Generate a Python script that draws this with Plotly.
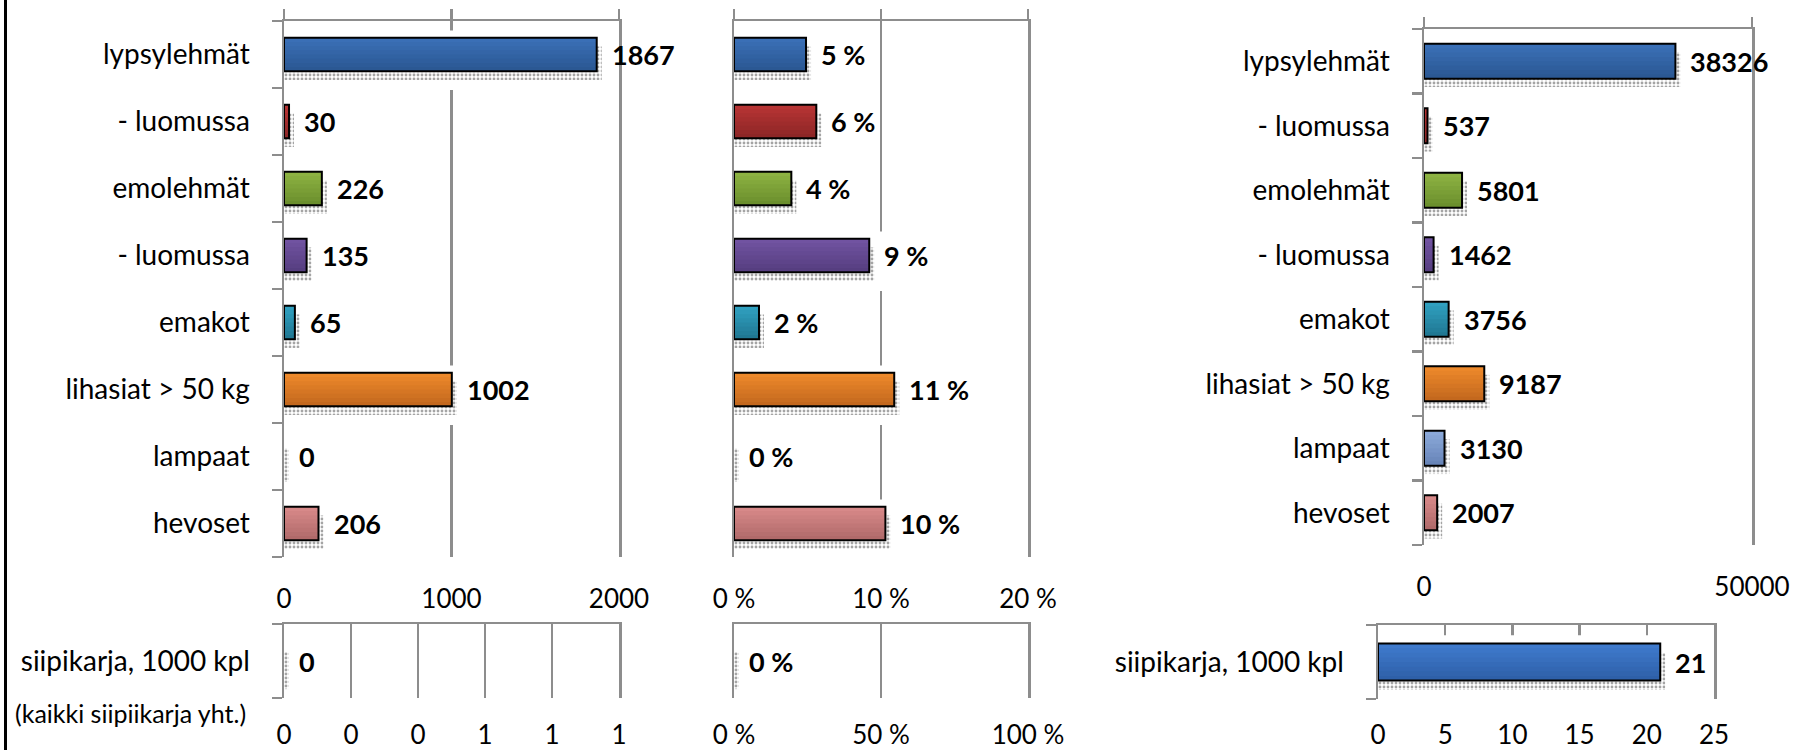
import plotly.graph_objects as go

W, H = 1794, 750

# ---------------------------------------------------------------- data
categories = ["lypsylehmät", "- luomussa", "emolehmät", "- luomussa",
              "emakot", "lihasiat > 50 kg", "lampaat", "hevoset"]
region_counts = [1867, 30, 226, 135, 65, 1002, 0, 206]
region_share_pct = [4.9, 5.6, 3.9, 9.2, 1.7, 10.9, 0.0, 10.3]
country_counts = [38326, 537, 5801, 1462, 3756, 9187, 3130, 2007]

poultry_category = ["siipikarja, 1000 kpl"]
poultry_region = [0]
poultry_share_pct = [0.0]
poultry_country = [21]

count_ticks = [0, 1000, 2000]
count_ticktext = ["0", "1000", "2000"]
share_ticks = [0, 10, 20]
share_ticktext = ["0 %", "10 %", "20 %"]
country_ticks = [0, 50000]
country_ticktext = ["0", "50000"]
poultry_region_ticks = [0, 0.2, 0.4, 0.6, 0.8, 1.0]
poultry_region_ticktext = ["0", "0", "0", "1", "1", "1"]
poultry_share_ticks = [0, 50, 100]
poultry_share_ticktext = ["0 %", "50 %", "100 %"]
poultry_country_ticks = [0, 5, 10, 15, 20, 25]
poultry_country_ticktext = ["0", "5", "10", "15", "20", "25"]

# gradient colours (top, bottom) for each animal group
bar_top = ["#3b71b9", "#ba3535", "#8fb543", "#7355a3", "#31a3c3",
           "#f08b2c", "#8eacdc", "#da8b8b"]
bar_bottom = ["#2a5690", "#8a2525", "#698c2c", "#543c7e", "#1f7590",
              "#c0661d", "#6582b6", "#ae6868"]
poultry_top = ["#407ccf"]
poultry_bottom = ["#2d5ea6"]

# ---------------------------------------------------------------- style
GRAY = "#8d8d8d"
FONT = "Lato"
TXT = "#000000"
LW = 2.5
CAT_SIZE = 28
TICK_SIZE = 26
VAL_SIZE = 27


def hex_rgb(h):
    h = h.lstrip("#")
    return tuple(int(h[i:i + 2], 16) for i in (0, 2, 4))


def blend(c1, c2, t):
    a, b = hex_rgb(c1), hex_rgb(c2)
    return "#%02x%02x%02x" % tuple(round(p + (q - p) * t) for p, q in zip(a, b))


def suffix(i):
    return "" if i == 1 else str(i)


fig = go.Figure()
shapes = []
annotations = []

# px boxes of the six plot areas: (left, right), (top, bottom)
panels = [
    dict(i=1, xpx=(284, 619), ypx=(21, 557), rng=[0, 2000],
         tv=count_ticks, tt=count_ticktext, vals=region_counts,
         labels=[f"{v:.0f}" for v in region_counts], cats=categories,
         tops=bar_top, bots=bar_bottom, show_cats=True, top_ticks=True,
         side_ticks=True, bw=0.5, standoff=24),
    dict(i=2, xpx=(284, 619), ypx=(624, 698), rng=[0, 1],
         tv=poultry_region_ticks, tt=poultry_region_ticktext,
         vals=poultry_region, labels=[f"{v:.0f}" for v in poultry_region],
         cats=poultry_category, tops=poultry_top, bots=poultry_bottom,
         show_cats=True, top_ticks=False, side_ticks=True, bw=0.5, standoff=19),
    dict(i=3, xpx=(734, 1028), ypx=(21, 557), rng=[0, 20],
         tv=share_ticks, tt=share_ticktext, vals=region_share_pct,
         labels=[f"{v:.0f} %" for v in region_share_pct], cats=categories,
         tops=bar_top, bots=bar_bottom, show_cats=False, top_ticks=True,
         side_ticks=False, bw=0.5, standoff=24),
    dict(i=4, xpx=(734, 1028), ypx=(624, 698), rng=[0, 100],
         tv=poultry_share_ticks, tt=poultry_share_ticktext,
         vals=poultry_share_pct,
         labels=[f"{v:.0f} %" for v in poultry_share_pct],
         cats=poultry_category, tops=poultry_top, bots=poultry_bottom,
         show_cats=False, top_ticks=False, side_ticks=False, bw=0.5, standoff=19),
    dict(i=5, xpx=(1424, 1752), ypx=(29, 545), rng=[0, 50000],
         tv=country_ticks, tt=country_ticktext, vals=country_counts,
         labels=[f"{v:.0f}" for v in country_counts], cats=categories,
         tops=bar_top, bots=bar_bottom, show_cats=True, top_ticks=True,
         side_ticks=True, bw=0.54, standoff=24),
    dict(i=6, xpx=(1378, 1714), ypx=(625, 699), rng=[0, 25],
         tv=poultry_country_ticks, tt=poultry_country_ticktext,
         vals=poultry_country, labels=[f"{v:.0f}" for v in poultry_country],
         cats=poultry_category, tops=poultry_top, bots=poultry_bottom,
         show_cats=True, top_ticks=False, side_ticks=True, bw=0.5, standoff=18),
]

N_STRIPES = 8
layout_axes = {}

for p in panels:
    i = p["i"]
    xr, yr = "x" + suffix(i), "y" + suffix(i)
    xl = "x" + str(i + 6)
    vals = p["vals"]
    n = len(vals)
    pos = list(range(n))
    bw = p["bw"]
    unit_per_px = (p["rng"][1] - p["rng"][0]) / (p["xpx"][1] - p["xpx"][0])

    # dotted drop shadow, offset down and to the right
    fig.add_trace(go.Bar(
        x=[v + 5 * unit_per_px for v in vals], y=pos, orientation="h",
        base=0, offset=-bw / 2 + 0.13, width=bw, xaxis=xr, yaxis=yr,
        marker=dict(color="white", line=dict(width=0),
                    pattern=dict(shape=".", fgcolor="#4a4a4a", bgcolor="white",
                                 size=4, solidity=0.4)),
        hoverinfo="skip"))

    # vertical gradient: each layer runs from its own top down to the bar bottom
    for k in range(N_STRIPES):
        t = (k + 0.5) / N_STRIPES
        fig.add_trace(go.Bar(
            x=vals, y=pos, orientation="h", base=0,
            offset=-bw / 2 + k * bw / N_STRIPES, width=bw - k * bw / N_STRIPES,
            xaxis=xr, yaxis=yr,
            marker=dict(color=[blend(p["tops"][c], p["bots"][c], t) for c in pos],
                        line=dict(width=0)),
            hoverinfo="skip"))

    # black outline
    fig.add_trace(go.Bar(
        x=vals, y=pos, orientation="h", base=0, offset=-bw / 2, width=bw,
        xaxis=xr, yaxis=yr,
        marker=dict(color="rgba(0,0,0,0)",
                    line=dict(color="black", width=[2 if v > 0 else 0 for v in vals])),
        hoverinfo="skip"))

    # invisible anchor so the label-only bottom axis is rendered
    fig.add_trace(go.Scatter(x=p["rng"], y=[0, 0], xaxis=xl, yaxis=yr,
                             mode="markers", marker=dict(size=1, opacity=0),
                             hoverinfo="skip"))

    for c, v in enumerate(vals):
        # clear band behind each bar that breaks the gridlines
        if v > 0:
            shapes.append(dict(type="rect", xref=xr, yref=yr, layer="between",
                               x0=0, x1=v + 14 * unit_per_px,
                               y0=c - 0.36, y1=c + 0.53,
                               fillcolor="white", line=dict(width=0)))
        annotations.append(dict(x=v, y=c, xref=xr, yref=yr, text=p["labels"][c],
                                xanchor="left", yanchor="middle", xshift=13,
                                showarrow=False,
                                font=dict(family=FONT, size=VAL_SIZE, color=TXT,
                                          weight="bold")))

    xdom = [p["xpx"][0] / W, p["xpx"][1] / W]
    ydom = [1 - p["ypx"][1] / H, 1 - p["ypx"][0] / H]

    layout_axes["xaxis" + suffix(i)] = dict(
        domain=xdom, range=p["rng"], anchor=yr, side="top",
        showline=True, linecolor=GRAY, linewidth=LW,
        ticks="outside" if p["top_ticks"] else "", ticklen=10,
        tickwidth=LW, tickcolor=GRAY, tickmode="array", tickvals=p["tv"],
        showticklabels=False, showgrid=True, gridcolor=GRAY, gridwidth=LW,
        zeroline=False, fixedrange=True, automargin=False)

    # bottom axis carrying only the tick labels
    layout_axes["xaxis" + str(i + 6)] = dict(
        overlaying=xr, anchor=yr, side="bottom", range=p["rng"],
        tickmode="array", tickvals=p["tv"], ticktext=p["tt"],
        showline=False, showgrid=False, zeroline=False, ticks="",
        ticklabelstandoff=p["standoff"], automargin=False,
        tickfont=dict(family=FONT, size=TICK_SIZE, color=TXT), fixedrange=True)

    layout_axes["yaxis" + suffix(i)] = dict(
        domain=ydom, range=[n - 0.5, -0.5], anchor=xr,
        showline=True, mirror=True, linecolor=GRAY, linewidth=LW,
        tickmode="array", tickvals=pos,
        ticktext=p["cats"] if p["show_cats"] else [""] * n,
        showticklabels=p["show_cats"], ticks="",
        minor=dict(tickmode="array", tickvals=[k - 0.5 for k in range(n + 1)],
                   ticks="outside" if p["side_ticks"] else "", ticklen=10,
                   tickwidth=LW, tickcolor=GRAY, showgrid=False),
        showgrid=False, zeroline=False, ticklabelstandoff=26, automargin=False,
        tickfont=dict(family=FONT, size=CAT_SIZE, color=TXT), fixedrange=True)

# note under the poultry row of the left panel
annotations.append(dict(x=248 / W, y=1 - 713 / H, xref="paper", yref="paper",
                        text="(kaikki siipiikarja yht.)", xanchor="right",
                        yanchor="middle", showarrow=False,
                        font=dict(family=FONT, size=25, color=TXT)))

# heavy frame edge on the left
shapes.append(dict(type="line", xref="paper", yref="paper", x0=5.5 / W, x1=5.5 / W,
                   y0=0, y1=1, line=dict(color="black", width=3)))

fig.update_layout(
    width=W, height=H, autosize=False,
    margin=dict(l=0, r=0, t=0, b=0, pad=0, autoexpand=False),
    paper_bgcolor="white", plot_bgcolor="white",
    barmode="overlay", showlegend=False,
    font=dict(family=FONT, size=26, color=TXT),
    shapes=shapes, annotations=annotations,
    **layout_axes)

fig.write_html("out.html", include_plotlyjs=True,
               config={"displayModeBar": False, "staticPlot": True})
